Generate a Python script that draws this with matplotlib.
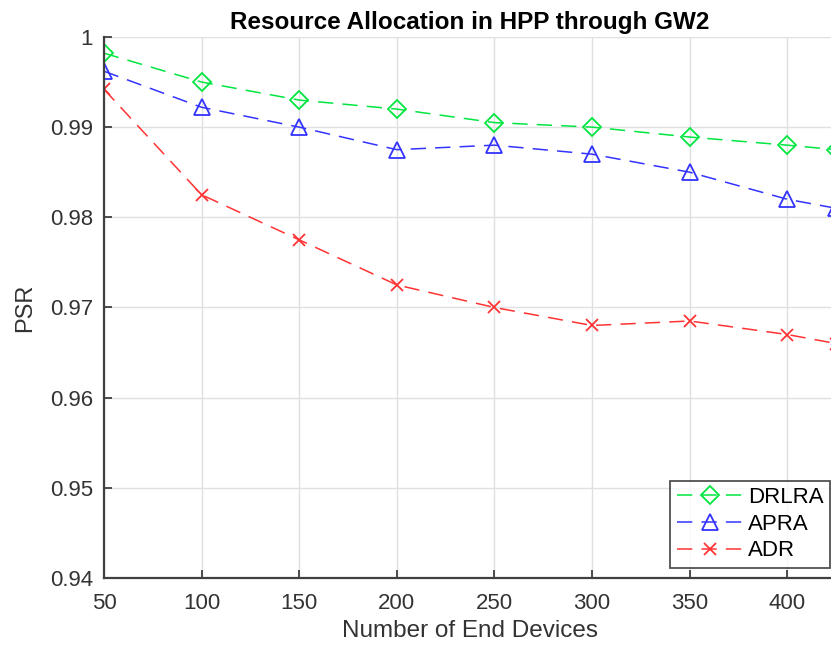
import numpy as np
import matplotlib
matplotlib.use("Agg")
import matplotlib.pyplot as plt

plt.rcParams['font.family'] = ['Liberation Sans', 'DejaVu Sans']

# number of end devices (last point is cut by the right edge of the picture)
devices = [50, 100, 150, 200, 250, 300, 350, 400, 425]
drlra = [0.9982, 0.9950, 0.9930, 0.9920, 0.9905, 0.9900, 0.9889, 0.9880, 0.9875]
apra = [0.9962, 0.9922, 0.9900, 0.9875, 0.9880, 0.9870, 0.9850, 0.9820, 0.9810]
adr = [0.9942, 0.9825, 0.9775, 0.9725, 0.9700, 0.9680, 0.9685, 0.9670, 0.9660]

xticks = [50, 100, 150, 200, 250, 300, 350, 400]
yticks = [0.94, 0.95, 0.96, 0.97, 0.98, 0.99, 1.0]
ytick_labels = ['0.94', '0.95', '0.96', '0.97', '0.98', '0.99', '1']

fig = plt.figure(figsize=(8.31, 6.46), dpi=100)
ax = fig.add_axes([0.1251, 0.1053, 0.881, 0.8375])

ax.plot(devices, drlra, '--', color='#00e640', marker='D', markersize=9.5,
        markerfacecolor='none', markeredgewidth=1.3, lw=1.1, dashes=(10, 6),
        label='DRLRA')
ax.plot(devices, apra, '--', color='#3333ff', marker='^', markersize=11,
        markerfacecolor='none', markeredgewidth=1.3, lw=1.1, dashes=(10, 6),
        label='APRA')
ax.plot(devices, adr, '--', color='#ff3333', marker='x', markersize=9,
        markeredgewidth=1.3, lw=1.1, dashes=(10, 6), label='ADR')

ax.set_xlim(50, 425)
ax.set_ylim(0.94, 1.0)
ax.set_xticks(xticks)
ax.set_yticks(yticks)
ax.set_yticklabels(ytick_labels)
ax.grid(True, color='#e0e0e0', lw=1)
ax.set_axisbelow(True)

for s in ['top', 'right']:
    ax.spines[s].set_visible(False)
for s in ['left', 'bottom']:
    ax.spines[s].set_color('#404040')
    ax.spines[s].set_linewidth(1.6)
ax.tick_params(direction='in', length=6, width=1.3, colors='#404040',
               labelcolor='#333333', labelsize=16)
ax.tick_params(axis='x', pad=11)
ax.tick_params(axis='y', pad=8)

ax.set_title('Resource Allocation in HPP through GW2', fontsize=17.5,
             fontweight='bold', pad=6)
ax.set_xlabel('Number of End Devices', fontsize=17.5, color='#333333', labelpad=4)
ax.set_ylabel('PSR', fontsize=17, color='#333333', labelpad=10)

leg = ax.legend(loc='lower right', bbox_to_anchor=(830 / 831, (646 - 568) / 646),
                bbox_transform=fig.transFigure, fontsize=16, frameon=True,
                fancybox=False, edgecolor='#262626', handlelength=3.0,
                handletextpad=0.2, borderpad=0.3, labelspacing=0.25,
                borderaxespad=0)
leg.get_frame().set_linewidth(1.3)

fig.savefig('out.png', dpi=100)
